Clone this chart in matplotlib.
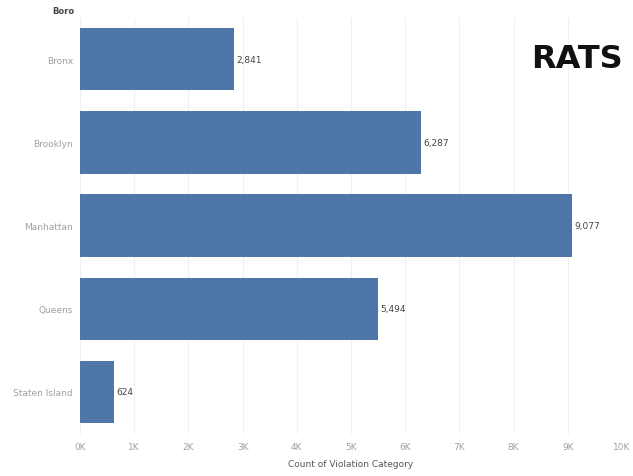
import matplotlib
matplotlib.use("Agg")
import matplotlib.pyplot as plt
from matplotlib.ticker import FuncFormatter

boroughs = ["Bronx", "Brooklyn", "Manhattan", "Queens", "Staten Island"]
counts = [2841, 6287, 9077, 5494, 624]
xticks = [0, 1000, 2000, 3000, 4000, 5000, 6000, 7000, 8000, 9000, 10000]

fig = plt.figure(figsize=(6.33, 4.77), dpi=100)
W, H = 633, 477
ax = fig.add_axes([80 / W, 1 - 434.5 / H, (622 - 80) / W, (434.5 - 18.5) / H])

ypos = list(range(len(boroughs)))
ax.barh(ypos, counts, height=0.75, color="#4e76a8", zorder=2)
ax.set_ylim(len(boroughs) - 0.5, -0.5)
ax.set_xlim(0, 10000)
ax.set_yticks(ypos)
ax.set_yticklabels(boroughs)
ax.set_xticks(xticks)
ax.xaxis.set_major_formatter(FuncFormatter(lambda v, p: f"{int(v/1000)}K"))
ax.tick_params(axis="both", length=0, colors="#a0a0a0", labelsize=6.5)
ax.tick_params(axis="x", pad=6)
ax.tick_params(axis="y", pad=5)
for s in ax.spines.values():
    s.set_visible(False)
ax.grid(axis="x", color="#f0f0f0", linewidth=0.8, zorder=0)

for y, v in zip(ypos, counts):
    ax.text(v + 40, y, f"{v:,}", va="center", ha="left", fontsize=6.5, color="#444444")

ax.set_xlabel("Count of Violation Category", fontsize=6.5, color="#555555", labelpad=6)
fig.text(52 / W, 1 - 12 / H, "Boro", fontsize=6, color="#444444", fontweight="bold", va="center", ha="left")
fig.text(577 / W, 1 - 60 / H, "RATS", fontsize=23, fontweight="bold", color="#111111", va="center", ha="center")

fig.savefig("out.png", dpi=100)
